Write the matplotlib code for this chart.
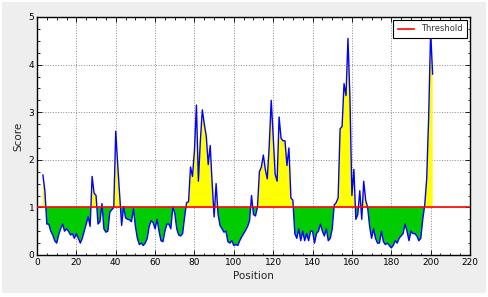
import numpy as np
import matplotlib
matplotlib.use("Agg")
import matplotlib.pyplot as plt
from matplotlib.patches import Rectangle
from matplotlib.ticker import MultipleLocator

positions = list(range(3, 202))
scores = [
    1.68, 1.35, 0.65, 0.65, 0.50, 0.42, 0.30, 0.25, 0.42, 0.55,   # 3-12
    0.65, 0.50, 0.55, 0.50, 0.42, 0.45, 0.35, 0.45, 0.35, 0.25,   # 13-22
    0.35, 0.50, 0.65, 0.80, 0.60, 1.65, 1.30, 1.25, 0.65, 0.70,   # 23-32
    1.08, 0.55, 0.48, 0.50, 0.90, 0.95, 1.00, 2.60, 1.90, 1.25,   # 33-42
    0.62, 1.02, 0.78, 0.75, 0.74, 0.70, 0.97, 0.60, 0.35, 0.22,   # 43-52
    0.25, 0.20, 0.25, 0.35, 0.60, 0.72, 0.68, 0.55, 0.75, 0.50,   # 53-62
    0.30, 0.28, 0.50, 0.65, 0.65, 0.55, 1.00, 0.88, 0.55, 0.42,   # 63-72
    0.40, 0.45, 0.80, 1.10, 1.12, 1.85, 1.65, 2.20, 3.15, 1.55,   # 73-82
    2.40, 3.05, 2.75, 2.50, 1.90, 2.30, 1.50, 0.80, 1.50, 0.85,   # 83-92
    0.62, 0.55, 0.48, 0.50, 0.28, 0.25, 0.30, 0.20, 0.22, 0.20,   # 93-102
    0.30, 0.38, 0.45, 0.52, 0.60, 0.72, 1.25, 0.85, 0.82, 1.00,   # 103-112
    1.75, 1.85, 2.10, 1.80, 1.60, 2.30, 3.25, 2.50, 1.70, 1.55,   # 113-122
    2.90, 2.45, 2.40, 2.40, 1.88, 2.25, 1.20, 1.15, 0.45, 0.35,   # 123-132
    0.55, 0.30, 0.50, 0.30, 0.45, 0.30, 0.50, 0.50, 0.25, 0.45,   # 133-142
    0.50, 0.65, 0.50, 0.40, 0.55, 0.30, 0.35, 0.55, 1.05, 1.10,   # 143-152
    1.20, 2.65, 2.70, 3.60, 3.35, 4.55, 3.30, 1.25, 1.80, 0.75,   # 153-162
    0.85, 1.35, 0.75, 1.55, 1.15, 1.00, 0.60, 0.35, 0.55, 0.35,   # 163-172
    0.25, 0.25, 0.50, 0.28, 0.22, 0.25, 0.20, 0.15, 0.20, 0.30,   # 173-182
    0.25, 0.35, 0.40, 0.45, 0.65, 0.50, 0.30, 0.50, 0.45, 0.45,   # 183-192
    0.40, 0.30, 0.35, 0.75, 1.05, 1.60, 2.90, 4.70, 3.80,         # 193-201
]
threshold = 1.0

x = np.array(positions)
y = np.array(scores)

fig = plt.figure(figsize=(4.88, 2.97), dpi=100, facecolor="white")
fig.patches.append(Rectangle((2 / 488, 4 / 297), 484 / 488, 291 / 297,
                             transform=fig.transFigure, facecolor="#eeeeee",
                             edgecolor="none", zorder=-10))
ax = fig.add_axes([37 / 488, 1 - 255 / 297, 433 / 488, 238 / 297])
ax.set_facecolor("white")

ax.fill_between(x, y, threshold, where=y >= threshold, interpolate=True,
                color="#ffff00", linewidth=0, zorder=2)
ax.fill_between(x, y, threshold, where=y <= threshold, interpolate=True,
                color="#00cc00", linewidth=0, zorder=2)
ax.plot(x, y, color="#0000ff", linewidth=1.0, zorder=3)
ax.axhline(threshold, color="#ff0000", linewidth=1.2, label="Threshold", zorder=4)

ax.set_xlim(0, 220)
ax.set_ylim(0, 5)
ax.xaxis.set_major_locator(MultipleLocator(20))
ax.yaxis.set_major_locator(MultipleLocator(1))
ax.xaxis.set_minor_locator(MultipleLocator(5))
ax.yaxis.set_minor_locator(MultipleLocator(0.25))
ax.tick_params(which="both", direction="in", top=True, right=True,
               labelsize=6.5, colors="black", width=0.6)
ax.tick_params(which="major", length=3.5, pad=2)
ax.tick_params(which="minor", length=1.8)
ax.grid(True, which="major", linestyle=":", color="#8a8a8a", linewidth=0.7, zorder=1)
for s in ax.spines.values():
    s.set_linewidth(1.0)
    s.set_color("black")

ax.set_xlabel("Position", fontsize=7.5, labelpad=3, color="#222222")
ax.set_ylabel("Score", fontsize=7.5, labelpad=4, color="#222222")

leg = ax.legend(loc="upper right", fontsize=6, fancybox=False, framealpha=1,
                edgecolor="black", handlelength=2.0, borderpad=0.5,
                borderaxespad=0.4)
leg.get_frame().set_linewidth(0.8)
for t in leg.get_texts():
    t.set_color("#333333")

fig.savefig("out.png", dpi=100, facecolor=fig.get_facecolor())
